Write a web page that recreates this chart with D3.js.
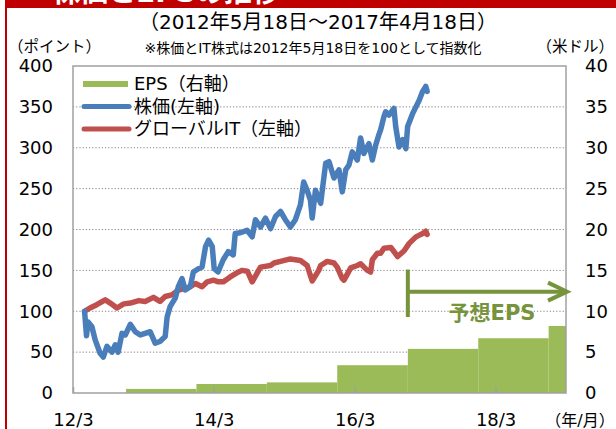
<!DOCTYPE html>
<html>
<head>
<meta charset="utf-8">
<script src="https://cdn.jsdelivr.net/npm/d3@7"></script>
<style>
  html, body { margin: 0; padding: 0; background: #fff; }
  svg { display: block; }
  text { font-family: "DejaVu Sans", "Noto Sans CJK JP", sans-serif; fill: #000; }
</style>
</head>
<body>
<svg id="chart" width="616" height="429"></svg>
<script>
// axis ranges and ticks
const X_START = "2012-03-01", X_END = "2019-03-01";
const xTickDates = ["2012-03-01", "2014-03-01", "2016-03-01", "2018-03-01"];
const xTickLabels = ["12/3", "14/3", "16/3", "18/3"];
const leftTicks = [0, 50, 100, 150, 200, 250, 300, 350, 400];
const rightTicks = [0, 5, 10, 15, 20, 25, 30, 35, 40];

// 株価 (left axis, index)
const stockDates = [
  "2012-04-30","2012-05-10","2012-05-18","2012-06-07","2012-06-24","2012-07-19","2012-08-05","2012-08-24","2012-09-19","2012-10-06","2012-10-21","2012-11-10","2012-11-27","2012-12-23",
  "2013-01-18","2013-02-13","2013-03-10","2013-04-05","2013-05-01","2013-05-26","2013-06-22","2013-07-02","2013-07-18","2013-08-13","2013-08-29","2013-09-17","2013-10-04","2013-10-30","2013-11-15","2013-12-11","2013-12-30",
  "2014-01-17","2014-02-02","2014-02-21","2014-03-03","2014-03-23","2014-04-19","2014-05-15","2014-06-10","2014-06-20","2014-07-16","2014-08-20","2014-09-16","2014-10-03","2014-10-29","2014-11-24","2014-12-20",
  "2015-01-15","2015-02-10","2015-03-07","2015-04-02","2015-04-28","2015-05-24","2015-06-10","2015-06-28","2015-07-15","2015-07-24","2015-08-10","2015-09-06","2015-10-02","2015-10-19","2015-11-14","2015-12-10","2015-12-27",
  "2016-01-14","2016-01-31","2016-02-17","2016-03-14","2016-03-31","2016-04-17","2016-05-13","2016-05-31","2016-06-17","2016-07-04","2016-07-13","2016-07-30","2016-08-08","2016-08-25","2016-09-20","2016-09-29","2016-10-16","2016-11-04","2016-11-21","2016-11-30","2016-12-26",
  "2017-01-12","2017-01-29","2017-02-16","2017-03-04","2017-03-11"
];
const stockValues = [
  100,70,87,81,65,49,44,57,50,59,50,73,71,84,
  75,71,73,75,61,63,69,93,106,116,130,140,126,130,148,152,154,
  179,187,179,152,148,163,173,169,195,196,199,191,212,203,214,201,
  216,222,212,203,212,230,258,248,236,214,248,232,281,283,263,273,246,
  273,279,295,285,312,293,305,285,303,316,322,338,344,340,348,326,301,310,299,326,342,
  350,358,369,375,369
];

// グローバルIT (left axis, index)
const itDates = [
  "2012-04-30","2012-05-28","2012-07-02","2012-08-15","2012-09-10","2012-10-15","2012-11-19","2012-12-23",
  "2013-02-05","2013-03-10","2013-04-22","2013-05-26","2013-06-22","2013-07-26","2013-08-30","2013-10-04","2013-10-30","2013-11-26","2013-12-30",
  "2014-01-26","2014-02-27","2014-03-25","2014-04-20","2014-05-25","2014-06-29","2014-07-25","2014-08-22","2014-09-16","2014-10-29","2014-12-20",
  "2015-01-07","2015-02-10","2015-04-02","2015-05-24","2015-06-28","2015-07-24","2015-08-27","2015-09-06","2015-10-10","2015-11-14","2015-12-01","2015-12-27",
  "2016-01-05","2016-02-09","2016-03-14","2016-03-31","2016-05-05","2016-05-22","2016-05-31","2016-06-26","2016-07-13","2016-07-30","2016-09-04","2016-10-09","2016-11-12","2016-12-08",
  "2017-01-12","2017-02-16","2017-03-04","2017-03-11"
];
const itValues = [
  100,104,108,114,110,104,109,110,
  113,112,117,112,118,120,126,128,130,134,130,
  136,138,136,136,142,147,150,149,136,154,156,
  159,161,164,162,156,137,150,156,161,159,154,140,
  138,153,156,158,150,148,163,171,171,177,178,167,174,183,
  191,195,198,194
];

// EPS (right axis, US$), one step per year
const epsStart = ["2012-12-01","2013-12-01","2014-12-01","2015-12-01","2016-12-01","2017-12-01","2018-12-01"];
const epsValues = [0.5, 1.1, 1.3, 3.4, 5.4, 6.7, 8.2];
const forecastFrom = "2016-12-01";

const legendLabels = ["EPS（右軸）", "株価(左軸)", "グローバルIT（左軸）"];

const C_BLUE = "#4A7EBB", C_RED = "#C0504D", C_GREEN = "#9BBB59", C_OLIVE = "#77933C";
const C_FRAME = "#A0A0A0", C_BRAND = "#C00000";

const parse = d3.timeParse("%Y-%m-%d");
const svg = d3.select("#chart");
const L = 73, R = 566, T = 66, B = 393;

const x = d3.scaleTime().domain([parse(X_START), parse(X_END)]).range([L, R]);
const yL = d3.scaleLinear().domain([0, 400]).range([B, T]);
const yR = d3.scaleLinear().domain([0, 40]).range([B, T]);

// red page frame; the heading sits mostly above the picture, only its foot shows
svg.append("rect").attr("x", 5).attr("y", 0).attr("width", 611).attr("height", 8).attr("fill", C_BRAND);
svg.append("rect").attr("x", 5).attr("y", 0).attr("width", 2).attr("height", 429).attr("fill", C_BRAND);
svg.append("text").attr("x", 52).attr("y", 2).attr("font-size", 28).attr("font-weight", 700)
  .style("fill", "#fff").text("株価とEPSの推移");

// headings
svg.append("text").attr("x", 318).attr("y", 29).attr("text-anchor", "middle")
  .attr("font-size", 20).text("（2012年5月18日～2017年4月18日）");
svg.append("text").attr("x", 313).attr("y", 53).attr("text-anchor", "middle")
  .attr("font-size", 14).text("※株価とIT株式は2012年5月18日を100として指数化");
svg.append("text").attr("x", 8).attr("y", 52).attr("font-size", 15.5).text("（ポイント）");
svg.append("text").attr("x", 614).attr("y", 52).attr("text-anchor", "end").attr("font-size", 15.5).text("（米ドル）");

// dotted gridlines
svg.append("g").selectAll("line").data(leftTicks.filter(v => v > 0 && v < 400)).join("line")
  .attr("x1", L).attr("x2", R).attr("y1", d => yL(d)).attr("y2", d => yL(d))
  .attr("stroke", "#808080").attr("stroke-width", 1).attr("stroke-dasharray", "1.2,2");

// EPS steps
svg.append("g").selectAll("rect").data(epsStart).join("rect")
  .attr("x", d => x(parse(d)))
  .attr("width", (d, i) => {
    const end = i + 1 < epsStart.length ? parse(epsStart[i + 1]) : parse(X_END);
    return x(end) - x(parse(d));
  })
  .attr("y", (d, i) => yR(epsValues[i]))
  .attr("height", (d, i) => yR(0) - yR(epsValues[i]))
  .attr("fill", C_GREEN);

// lines
const line = d3.line().x(d => x(d.date)).y(d => yL(d.v));
const stock = stockDates.map((d, i) => ({ date: parse(d), v: stockValues[i] }));
const it = itDates.map((d, i) => ({ date: parse(d), v: itValues[i] }));
[[it, C_RED], [stock, C_BLUE]].forEach(([data, col]) => {
  svg.append("path").attr("d", line(data)).attr("fill", "none")
    .attr("stroke", col).attr("stroke-width", 5.5)
    .attr("stroke-linejoin", "round").attr("stroke-linecap", "round");
});

// frame + axes
svg.append("rect").attr("x", L).attr("y", T).attr("width", R - L).attr("height", B - T)
  .attr("fill", "none").attr("stroke", C_FRAME).attr("stroke-width", 1.5);

const xAxis = svg.append("g").attr("transform", `translate(0,${B})`)
  .call(d3.axisBottom(x).tickValues(xTickDates.map(parse))
    .tickFormat((d, i) => xTickLabels[i]).tickSize(-6).tickPadding(20));
xAxis.select(".domain").remove();
xAxis.selectAll(".tick line").attr("stroke", C_FRAME).attr("stroke-width", 1.5);
xAxis.selectAll("text").attr("font-size", 18).attr("dy", "0.71em")
  .attr("font-family", "DejaVu Sans");

const yAxisL = svg.append("g").attr("transform", `translate(${L},0)`)
  .call(d3.axisLeft(yL).tickValues(leftTicks).tickSize(0).tickPadding(20));
yAxisL.select(".domain").remove();
yAxisL.selectAll("text").attr("font-size", 18).attr("font-family", "DejaVu Sans");

const yAxisR = svg.append("g").attr("transform", `translate(${R},0)`)
  .call(d3.axisRight(yR).tickValues(rightTicks).tickSize(0).tickPadding(19));
yAxisR.select(".domain").remove();
yAxisR.selectAll("text").attr("font-size", 18).attr("font-family", "DejaVu Sans");

svg.append("text").attr("x", 580).attr("y", 426).attr("text-anchor", "middle")
  .attr("font-size", 16).text("（年/月）");

// legend
const lg = svg.append("g");
const rowY = [84, 106.5, 129];
lg.append("rect").attr("x", 83).attr("y", rowY[0] - 3).attr("width", 45).attr("height", 6).attr("fill", C_GREEN);
[[C_BLUE, rowY[1]], [C_RED, rowY[2]]].forEach(([c, yy]) => {
  lg.append("line").attr("x1", 84).attr("x2", 129).attr("y1", yy).attr("y2", yy)
    .attr("stroke", c).attr("stroke-width", 5).attr("stroke-linecap", "round");
});
lg.selectAll("text").data(legendLabels).join("text")
  .attr("x", 134).attr("y", (d, i) => rowY[i]).attr("dy", "0.36em")
  .attr("font-size", 18).text(d => d);

// forecast marker
const fx = x(parse(forecastFrom));
const ay = yR(12.4);
const ann = svg.append("g").attr("stroke", C_OLIVE).attr("stroke-width", 4).attr("fill", "none");
ann.append("line").attr("x1", fx).attr("x2", fx).attr("y1", yR(15.1)).attr("y2", yR(9.3));
ann.append("line").attr("x1", fx).attr("x2", R).attr("y1", ay).attr("y2", ay);
ann.append("path").attr("d", `M${R - 18},${ay - 9}L${R + 1},${ay}L${R - 18},${ay + 9}`)
  .attr("stroke-linejoin", "miter");
svg.append("text").attr("x", 492).attr("y", yR(9.9)).attr("dy", "0.36em").attr("text-anchor", "middle")
  .attr("font-size", 21).attr("font-weight", 700).style("fill", C_OLIVE).text("予想EPS");
</script>
</body>
</html>
